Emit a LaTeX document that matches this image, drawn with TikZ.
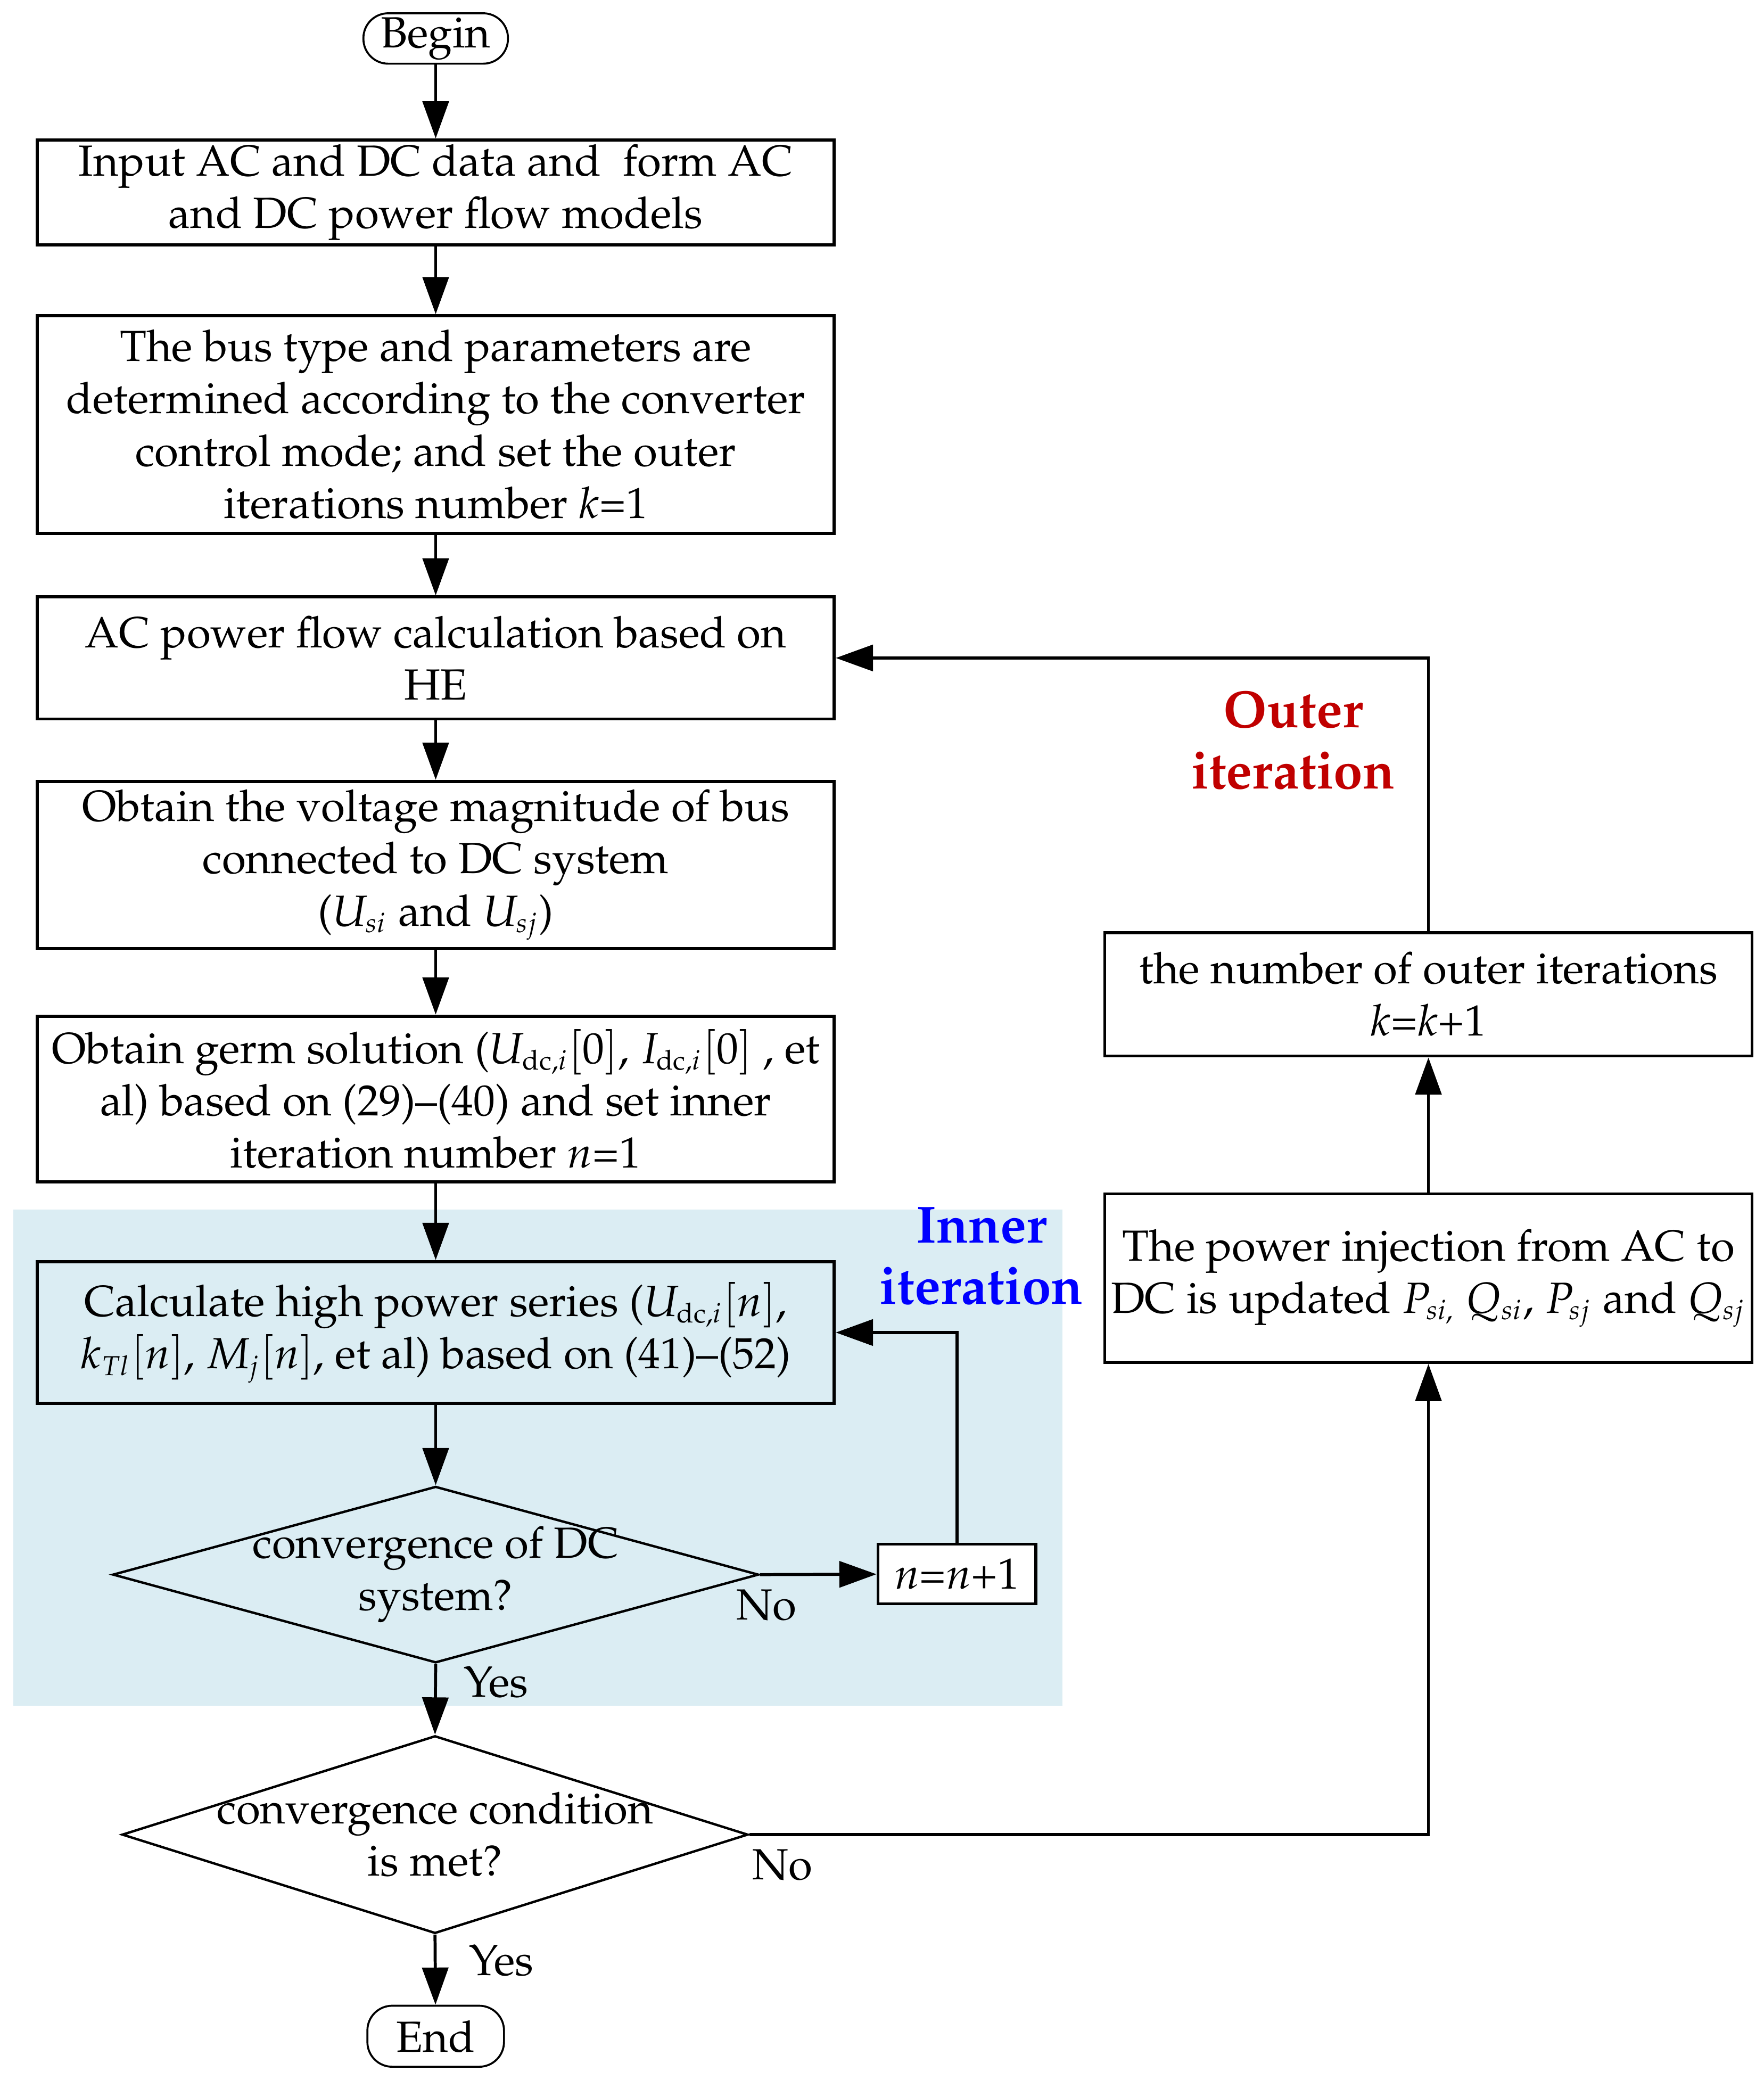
\documentclass[tikz,border=0pt]{standalone}
\usepackage[T1]{fontenc}
\usepackage{mathpazo}
\usepackage{tikz}
\usetikzlibrary{shapes.geometric,arrows.meta}
\DeclareMathSizes{10}{10}{6.3}{5}
\def\ux{0.0107cm}

\begin{document}
\begin{tikzpicture}[x=\ux,y=-\ux,
		box/.style={rectangle,draw,line width=0.7pt,align=center,inner sep=0pt,minimum width=601*\ux},
		term/.style={rectangle,draw,line width=0.45pt,rounded corners=0.2cm,inner sep=0pt},
		decision/.style={diamond,draw,line width=0.55pt,inner sep=0pt},
		arr/.style={line width=0.7pt,-{Triangle[length=0.3cm,width=0.21cm]}},
		lab/.style={inner sep=0pt}]
		\useasboundingbox (0,0) rectangle (1330,1568);
		\fill[fill={rgb,255:red,219;green,237;blue,243}] (10,912) rectangle (801,1286);
		\node[term,minimum width=109*\ux,minimum height=38*\ux](begin) at (328.5,29){Begin};
		\node[box,minimum height=79*\ux](b1) at (328.5,145){Input AC and DC data and\ \ form AC\\and DC power flow models};
		\node[box,minimum height=164*\ux](b2) at (328.5,320){The bus type and parameters are\\determined according to the converter\\control mode; and set the outer\\iterations number $k$=1};
		\node[box,minimum height=92*\ux](b3) at (328.5,496){AC power flow calculation based on\\HE};
		\node[box,minimum height=126*\ux](b4) at (328.5,652){Obtain the voltage magnitude of bus\\connected to DC system\\($U_{si}$ and $U_{sj}$)};
		\node[box,minimum height=125*\ux](b5) at (328.5,828.5){Obtain germ solution ($U_{\mathrm{dc},i}[0]$, $I_{\mathrm{dc},i}[0]$ , et\\al) based on (29)--(40) and set inner\\iteration number $n$=1};
		\node[box,minimum height=107*\ux](b6) at (328.5,1004.5){Calculate high power series ($U_{\mathrm{dc},i}[n]$,\\$k_{Tl}[n]$, $M_j[n]$, et al) based on (41)--(52)};
		\node[decision,minimum width=487*\ux,minimum height=133*\ux](d1) at (328.5,1187){};
		\node[lab,align=center](d1t) at (d1){convergence of DC\\system?};
		\node[box,fill=white,minimum width=119*\ux,minimum height=45*\ux](n) at (721.5,1186.5){$n$=$n$+1};
		\node[decision,minimum width=472*\ux,minimum height=149*\ux](d2) at (328,1383){};
		\node[lab,align=center](d2t) at (d2){convergence condition\\is met?};
		\node[term,minimum width=103*\ux,minimum height=46*\ux](end) at (328.5,1535){End};
		\node[box,minimum width=488*\ux,minimum height=127*\ux](r1) at (1077,963.5){The power injection from AC to\\DC is updated $P_{si,}$ $Q_{si}$, $P_{sj}$ and $Q_{sj}$};
		\node[box,minimum width=488*\ux,minimum height=93*\ux](r2) at (1077,749.5){the number of outer iterations\\$k$=$k$+1};
		\node[lab,align=center,text=blue,font=\large\bfseries](inner) at (740,947){Inner\\iteration};
		\node[lab,align=center,text={rgb,255:red,192;green,0;blue,0},font=\large\bfseries](outer) at (975,558){Outer\\iteration};
		\node[lab](no1) at (578,1210){No};
		\node[lab](yes1) at (374,1268){Yes};
		\node[lab](no2) at (590,1406){No};
		\node[lab](yes2) at (378,1478){Yes};
		\draw[arr] (begin) -- (b1);
		\draw[arr] (b1) -- (b2);
		\draw[arr] (b2) -- (b3);
		\draw[arr] (b3) -- (b4);
		\draw[arr] (b4) -- (b5);
		\draw[arr] (b5) -- (b6);
		\draw[arr] (b6) -- (d1.north);
		\draw[arr] (d1.east) -- (n);
		\draw[arr] (n.north) |- (b6.east);
		\draw[arr] (d1.south) -- (d2.north);
		\draw[arr] (d2.south) -- (end);
		\draw[arr] (d2.east) -| (r1.south);
		\draw[arr] (r1) -- (r2);
		\draw[arr] (r2.north) |- (b3.east);
	\end{tikzpicture}
\end{document}
